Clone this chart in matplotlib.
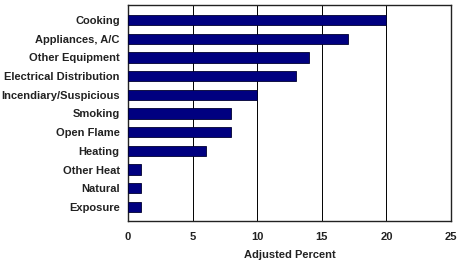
import matplotlib
matplotlib.use("Agg")
import matplotlib.pyplot as plt

categories = ["Cooking", "Appliances, A/C", "Other Equipment", "Electrical Distribution",
              "Incendiary/Suspicious", "Smoking", "Open Flame", "Heating",
              "Other Heat", "Natural", "Exposure"]
values = [20, 17, 14, 13, 10, 8, 8, 6, 1, 1, 1]
xticks = [0, 5, 10, 15, 20, 25]

plt.rcParams['font.family'] = ['Liberation Sans', 'DejaVu Sans']
fig = plt.figure(figsize=(4.6, 2.61), dpi=100)
ax = fig.add_axes([128/460, 1-221/261, (451-128)/460, (221-5)/261])

pos = list(range(len(categories)))
ax.barh(pos, values, height=0.55, color="#000080", edgecolor="#000030", linewidth=0.6, zorder=3)
ax.set_ylim(len(categories)-0.25, -0.8)
ax.set_xlim(0, 25)
ax.set_yticks(pos)
ax.set_yticklabels(categories, fontsize=8, fontweight="bold", color="#222222")
ax.set_xticks(xticks)
ax.set_xticklabels([str(t) for t in xticks], fontsize=8, fontweight="bold", color="#222222")
ax.tick_params(length=0, pad=8)
ax.tick_params(axis='y', pad=6)
ax.xaxis.grid(True, color="#000000", linewidth=0.7, zorder=0)
for s in ax.spines.values():
    s.set_linewidth(1.0)
    s.set_color("#222222")
ax.set_xlabel("Adjusted Percent", fontsize=8, fontweight="bold", color="#222222", labelpad=6)
fig.savefig("out.png", dpi=100)
